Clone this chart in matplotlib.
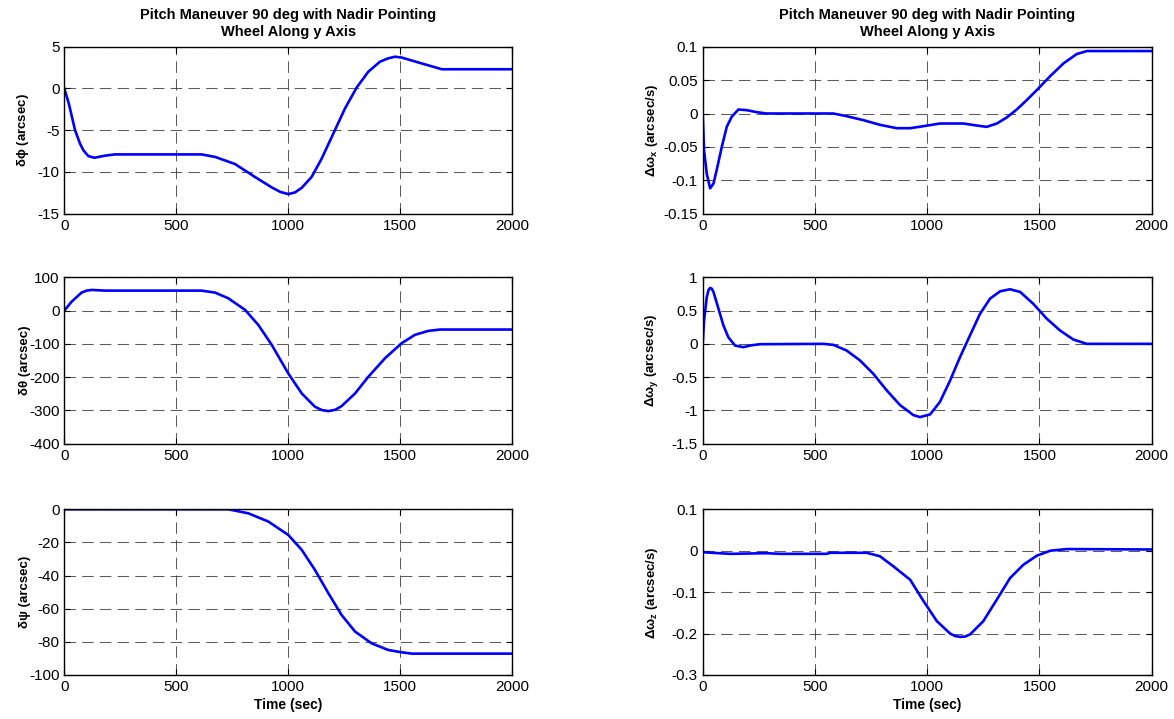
import numpy as np
import matplotlib
matplotlib.use('Agg')
import matplotlib.pyplot as plt

plt.rcParams['font.family'] = ['Liberation Sans', 'DejaVu Sans']
plt.rcParams['mathtext.fontset'] = 'custom'
plt.rcParams['mathtext.rm'] = 'Liberation Sans'
plt.rcParams['mathtext.bf'] = 'Liberation Sans:bold'

# values
t_phi = [0, 20, 48, 70, 85, 107, 134, 182, 226, 613, 673, 762, 851, 926, 965, 1000, 1030, 1060, 1104,
         1149, 1201, 1253, 1305, 1357, 1409, 1445, 1476, 1506, 1595, 1685, 2000]
d_phi = [0, -1.8, -5, -6.6, -7.4, -8.1, -8.3, -8.05, -7.9, -7.9, -8.2, -9.05, -10.6, -11.85, -12.4, -12.65,
         -12.45, -11.9, -10.6, -8.4, -5.4, -2.4, 0.1, 2.0, 3.2, 3.6, 3.8, 3.7, 3.0, 2.3, 2.3]

t_theta = [0, 33, 77, 100, 122, 182, 613, 673, 732, 807, 866, 926, 1000, 1060, 1119, 1150, 1179,
           1210, 1238, 1298, 1357, 1432, 1506, 1565, 1625, 1677, 2000]
d_theta = [0, 27, 54, 60, 62, 60, 60, 54, 37, 2, -43, -103, -189, -249, -289, -299, -302,
           -298, -287, -249, -199, -143, -98, -73, -61, -57, -57]

t_psi = [0, 732, 821, 911, 1000, 1060, 1119, 1179, 1238, 1298, 1372, 1446, 1506, 1551, 2000]
d_psi = [0, 0, -2.4, -7.4, -15.5, -24.5, -36.6, -50.7, -63.8, -73.8, -80.9, -84.9, -86.3, -87.1, -87.1]

t_wx = [0, 6, 18, 33, 48, 62, 85, 107, 129, 159, 196, 241, 285, 582, 641, 716, 790, 864,
        924, 983, 1057, 1161, 1221, 1265, 1310, 1354, 1399, 1443, 1488, 1548, 1607, 1666, 1711, 2000]
w_x = [0, -0.055, -0.09, -0.112, -0.105, -0.085, -0.05, -0.02, -0.005, 0.006, 0.005, 0.002, 0, 0,
       -0.004, -0.01, -0.017, -0.022, -0.022, -0.019, -0.015, -0.015, -0.018, -0.02, -0.015, -0.006,
       0.006, 0.02, 0.035, 0.056, 0.075, 0.089, 0.0935, 0.0935]

t_wy = [0, 6, 18, 26, 33, 40, 48, 70, 92, 114, 144, 181, 211, 255, 538, 582, 641, 701, 760, 820, 879,
        938, 968, 1013, 1057, 1102, 1146, 1191, 1235, 1280, 1325, 1369, 1414, 1473, 1532, 1592,
        1651, 1711, 2000]
w_y = [0, 0.35, 0.7, 0.81, 0.84, 0.83, 0.78, 0.53, 0.28, 0.1, -0.025, -0.05, -0.025, -0.005, 0, -0.015,
       -0.1, -0.25, -0.45, -0.7, -0.92, -1.07, -1.1, -1.06, -0.87, -0.55, -0.2, 0.13, 0.45, 0.68, 0.79,
       0.82, 0.78, 0.6, 0.38, 0.2, 0.065, 0, 0]

t_wz = [0, 10, 122, 285, 345, 553, 567, 731, 790, 850, 924, 984, 1043, 1102, 1125, 1147, 1170, 1191,
        1250, 1310, 1369, 1428, 1488, 1548, 1622, 2000]
w_z = [-0.002, -0.004, -0.0075, -0.006, -0.0075, -0.0075, -0.005, -0.005, -0.0135, -0.038, -0.07,
       -0.122, -0.17, -0.2, -0.206, -0.208, -0.207, -0.202, -0.17, -0.118, -0.066, -0.034, -0.012,
       0.0, 0.004, 0.003]

title = 'Pitch Maneuver 90 deg with Nadir Pointing\nWheel Along y Axis'

fig = plt.figure(figsize=(11.74, 7.19), dpi=100)
W, H = 1174, 719
lefts = [64.3, 702.7]
widths = [448, 449]
tops = [46.7, 277.3, 509.3]
heights = [167, 166.4, 165.7]

panels = [
    (0, 0, t_phi, d_phi, (-15, 5), np.arange(-15, 6, 5), r'δ$\mathbf{\phi}$ (arcsec)'),
    (0, 1, t_theta, d_theta, (-400, 100), np.arange(-400, 101, 100), 'δθ (arcsec)'),
    (0, 2, t_psi, d_psi, (-100, 0), np.arange(-100, 1, 20), 'δψ (arcsec)'),
    (1, 0, t_wx, w_x, (-0.15, 0.1), [-0.15, -0.1, -0.05, 0, 0.05, 0.1], r'Δω$_\mathbf{x}$ (arcsec/s)'),
    (1, 1, t_wy, w_y, (-1.5, 1), [-1.5, -1, -0.5, 0, 0.5, 1], r'Δω$_\mathbf{y}$ (arcsec/s)'),
    (1, 2, t_wz, w_z, (-0.3, 0.1), [-0.3, -0.2, -0.1, 0, 0.1], r'Δω$_\mathbf{z}$ (arcsec/s)'),
]

for col, row, t, v, ylim, yticks, ylab in panels:
    ax = fig.add_axes([lefts[col] / W, 1 - (tops[row] + heights[row]) / H,
                       widths[col] / W, heights[row] / H])
    ax.plot(t, v, color='#0000ff', lw=1.9)
    ax.set_xlim(0, 2000)
    ax.set_ylim(*ylim)
    ax.set_xticks([0, 500, 1000, 1500, 2000])
    ax.set_yticks(yticks)
    ax.set_yticklabels(['%g' % y for y in yticks])
    ax.grid(True, color='#333333', linestyle=(0, (11, 6)), linewidth=0.75, alpha=0.8)
    ax.tick_params(direction='in', top=True, right=True, length=4, labelsize=11, pad=3.5)
    for s in ax.spines.values():
        s.set_linewidth(1.0)
    ax.set_ylabel(ylab, fontsize=9.5, fontweight='bold')
    ax.yaxis.set_label_coords(-0.074 if col == 0 else -0.095, 0.5)
    if row == 0:
        ax.set_title(title, fontsize=10.5, fontweight='bold', pad=8, linespacing=1.25)
    if row == 2:
        ax.set_xlabel('Time (sec)', fontsize=10, fontweight='bold', labelpad=3)

fig.savefig('out.png', dpi=100)
